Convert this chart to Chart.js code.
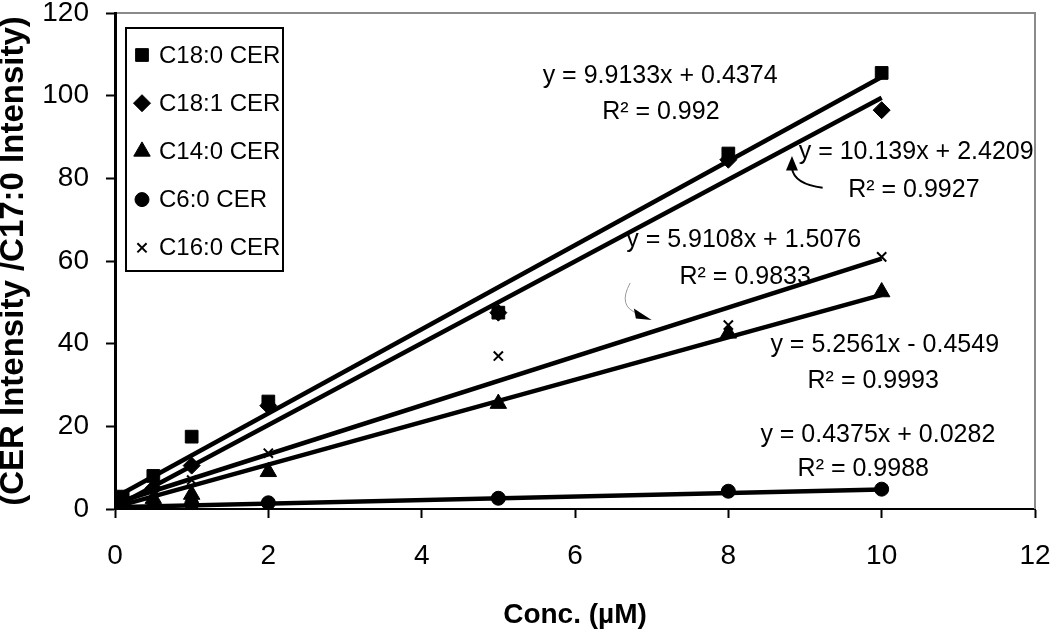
<!DOCTYPE html>
<html>
<head>
<meta charset="utf-8">
<script src="https://cdn.jsdelivr.net/npm/chart.js@4.4.1/dist/chart.umd.min.js"></script>
<style>
  html, body { margin: 0; padding: 0; background: #fff; }
  #wrap { width: 1050px; height: 635px; }
</style>
</head>
<body>
<div id="wrap"><canvas id="chart" width="1050" height="635"></canvas></div>
<script>
const conc = [0.1, 0.5, 1, 2, 5, 8, 10];
const c180 = [3, 8, 17.5, 26, 47.5, 86, 105.5];
const c181 = [1.5, 5, 10.5, 25, 47.5, 84.5, 96.5];
const c140 = [0.8, 2.5, 3.5, 9, 25.5, 42.5, 52.5];
const c60  = [0.2, 0.3, 1.2, 1.5, 2.6, 4.3, 4.8];
const c160 = [0.6, 3.5, 7, 13.5, 37, 44.5, 61];

// trendline end points as drawn
const fitX   = [0.1, 10];
const fit180 = [3.8, 104.5];
const fit181 = [1.5, 99.5];
const fit160 = [2, 60.6];
const fit140 = [1, 51.8];
const fit60  = [0.5, 4.7];

const seriesNames = ['C18:0 CER', 'C18:1 CER', 'C14:0 CER', 'C6:0 CER', 'C16:0 CER'];
const xTicks = [0, 2, 4, 6, 8, 10, 12];
const yTicks = [0, 20, 40, 60, 80, 100, 120];

// fit labels, placed in data units
const notes = [
  { text: 'y = 9.9133x + 0.4374', x: 7.11, y: 104.8 },
  { text: 'R² = 0.992',           x: 7.12, y: 96.1 },
  { text: 'y = 10.139x + 2.4209', x: 10.45, y: 86.4 },
  { text: 'R² = 0.9927',          x: 10.42, y: 77.2 },
  { text: 'y = 5.9108x + 1.5076', x: 8.2,  y: 65.1 },
  { text: 'R² = 0.9833',          x: 8.22, y: 56.1 },
  { text: 'y = 5.2561x - 0.4549', x: 10.04, y: 39.7 },
  { text: 'R² = 0.9993',          x: 9.89, y: 31.0 },
  { text: 'y = 0.4375x + 0.0282', x: 9.95, y: 17.9 },
  { text: 'R² = 0.9988',          x: 9.76, y: 9.7 }
];

const FONT = '"Liberation Sans", Arial, sans-serif';

const pts = (xs, ys) => xs.map((x, i) => ({ x: x, y: ys[i] }));

const marker = (label, ys, style, r, bw) => ({
  label: label,
  data: pts(conc, ys),
  pointStyle: style,
  pointRadius: r,
  pointBorderWidth: bw,
  pointBackgroundColor: '#000',
  pointBorderColor: '#000',
  showLine: false
});

const trend = (ys) => ({
  trend: true,
  data: pts(fitX, ys),
  showLine: true,
  borderColor: '#000',
  borderWidth: 4.5,
  pointRadius: 0
});

// gray top/right frame of the plot area
const frame = {
  id: 'frame',
  beforeDatasetsDraw(chart) {
    const { ctx, chartArea: a } = chart;
    ctx.save();
    ctx.strokeStyle = '#8a8a8a';
    ctx.lineWidth = 2;
    ctx.beginPath();
    ctx.moveTo(a.left + 2, a.top);
    ctx.lineTo(a.right, a.top);
    ctx.lineTo(a.right, a.bottom);
    ctx.stroke();
    ctx.restore();
  }
};

// equations + the two small arrows
const fitNotes = {
  id: 'fitNotes',
  afterDatasetsDraw(chart) {
    const { ctx } = chart;
    const sx = chart.scales.x, sy = chart.scales.y;
    const P = (x, y) => [sx.getPixelForValue(x), sy.getPixelForValue(y)];
    ctx.save();
    ctx.fillStyle = '#000';
    ctx.font = '25px ' + FONT;
    ctx.textAlign = 'center';
    ctx.textBaseline = 'middle';
    notes.forEach(n => {
      const [px, py] = P(n.x, n.y);
      ctx.fillText(n.text, px, py);
    });

    // curved arrow pointing at the C18:1 line
    let a = P(9.23, 77.7), c = P(8.86, 78.6), b = P(8.83, 82.4), t = P(8.83, 85.4);
    ctx.strokeStyle = '#000';
    ctx.lineWidth = 2;
    ctx.beginPath();
    ctx.moveTo(a[0], a[1]);
    ctx.quadraticCurveTo(c[0], c[1], b[0], b[1]);
    ctx.stroke();
    ctx.beginPath();
    ctx.moveTo(t[0], t[1]);
    ctx.lineTo(b[0] - 6, b[1] + 2);
    ctx.lineTo(b[0] + 6, b[1] + 2);
    ctx.closePath();
    ctx.fill();

    // thin gray arrow pointing at the C16:0 line
    a = P(6.72, 54.7); c = P(6.55, 49.0); b = P(6.82, 47.3); t = P(7.0, 45.7);
    ctx.strokeStyle = '#999';
    ctx.lineWidth = 1;
    ctx.beginPath();
    ctx.moveTo(a[0], a[1]);
    ctx.quadraticCurveTo(c[0], c[1], b[0], b[1]);
    ctx.stroke();
    ctx.beginPath();
    ctx.moveTo(t[0], t[1]);
    ctx.lineTo(b[0] - 4, b[1] - 5);
    ctx.lineTo(b[0] - 2, b[1] + 5);
    ctx.closePath();
    ctx.fill();
    ctx.restore();
  }
};

// boxed legend inside the plot, top-left
const boxLegend = {
  id: 'boxLegend',
  afterDraw(chart) {
    const { ctx, chartArea: a } = chart;
    const left = a.left + 11, top = a.top + 15, w = 157, h = 243, step = 48.2;
    ctx.save();
    ctx.fillStyle = '#fff';
    ctx.fillRect(left, top, w, h);
    ctx.strokeStyle = '#000';
    ctx.lineWidth = 2;
    ctx.strokeRect(left, top, w, h);
    ctx.font = '24px ' + FONT;
    ctx.textAlign = 'left';
    ctx.textBaseline = 'middle';
    let row = 0;
    chart.data.datasets.forEach(ds => {
      if (ds.trend) return;
      const y = top + 27 + row * step;
      ctx.fillStyle = '#000';
      ctx.strokeStyle = '#000';
      ctx.lineWidth = ds.pointBorderWidth;
      Chart.helpers.drawPoint(ctx, {
        pointStyle: ds.pointStyle,
        radius: ds.pointRadius,
        borderWidth: ds.pointBorderWidth,
        rotation: 0
      }, left + 16, y);
      ctx.fillText(ds.label, left + 33, y + 1);
      row++;
    });
    ctx.restore();
  }
};

new Chart(document.getElementById('chart'), {
  type: 'scatter',
  data: {
    datasets: [
      marker(seriesNames[0], c180, 'rect', 9, 1),
      marker(seriesNames[1], c181, 'rectRot', 8.5, 1),
      marker(seriesNames[2], c140, 'triangle', 9.5, 1),
      marker(seriesNames[3], c60, 'circle', 7, 1),
      marker(seriesNames[4], c160, 'crossRot', 6.5, 2),
      trend(fit180),
      trend(fit181),
      trend(fit160),
      trend(fit140),
      trend(fit60)
    ]
  },
  options: {
    responsive: false,
    animation: false,
    events: [],
    layout: { padding: { top: 13, right: 15, left: 0, bottom: 0 } },
    plugins: {
      legend: { display: false },
      tooltip: { enabled: false }
    },
    scales: {
      x: {
        type: 'linear',
        min: 0, max: 12,
        afterBuildTicks: s => { s.ticks = xTicks.map(v => ({ value: v })); },
        ticks: { color: '#000', font: { family: FONT, size: 28 }, padding: 21 },
        grid: { drawOnChartArea: false, drawTicks: true, tickLength: 9, tickWidth: 2, tickColor: '#000' },
        border: { color: '#000', width: 2 },
        title: {
          display: true, text: 'Conc. (µM)', color: '#000',
          font: { family: FONT, size: 28, weight: 'bold' },
          padding: { top: 4, bottom: 3 }
        },
        afterFit: s => {
          s.height = 126;
          s.paddingLeft = 0;
          s.paddingRight = 0;
        }
      },
      y: {
        min: 0, max: 120,
        afterBuildTicks: s => { s.ticks = yTicks.map(v => ({ value: v })); },
        ticks: { color: '#000', font: { family: FONT, size: 28, lineHeight: 0.9 }, padding: 17 },
        grid: { drawOnChartArea: false, drawTicks: true, tickLength: 9, tickWidth: 2, tickColor: '#000' },
        border: { color: '#000', width: 3 },
        title: {
          display: true, text: '(CER Intensity /C17:0 Intensity)', color: '#000',
          font: { family: FONT, size: 33, weight: 'bold', lineHeight: 0.85 },
          padding: { top: 0, bottom: 0 }
        },
        afterFit: s => {
          s.width = 115;
          s.paddingTop = 0;
          s.paddingBottom = 0;
        }
      }
    }
  },
  plugins: [frame, fitNotes, boxLegend]
});
</script>
</body>
</html>
